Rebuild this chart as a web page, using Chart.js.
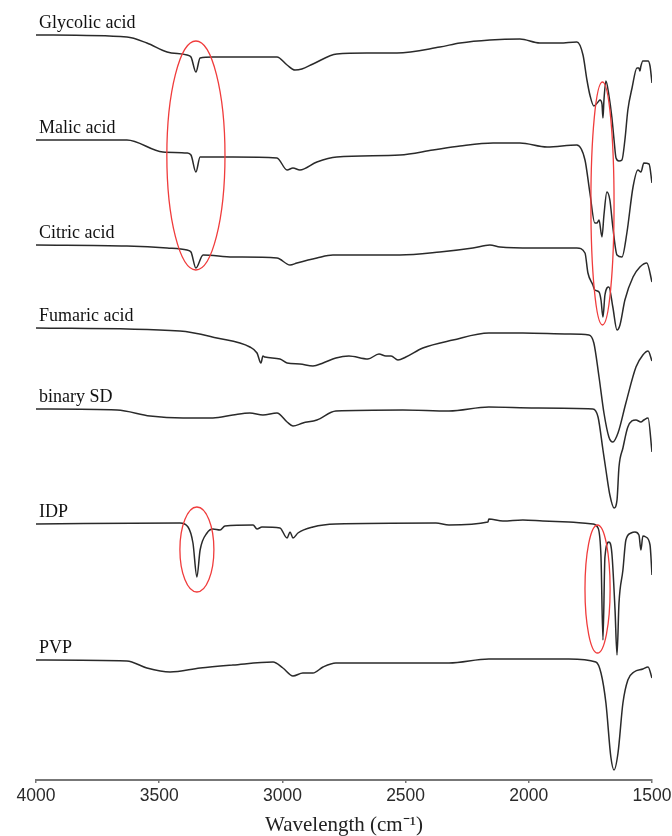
<!DOCTYPE html>
<html>
<head>
<meta charset="utf-8">
<script src="https://cdn.jsdelivr.net/npm/chart.js@4"></script>
<style>
html,body{margin:0;padding:0;background:#fff;}
canvas{display:block;}
</style>
</head>
<body>
<canvas id="c" width="672" height="836"></canvas>
<script>
// ---- data (wavenumber in cm-1, transmittance offset in arbitrary units) ----
const seriesNames = ["Glycolic acid","Malic acid","Citric acid","Fumaric acid","binary SD","IDP","PVP"];
const xTicks = [4000,3500,3000,2500,2000,1500];

const glycolicX = [4000,3631,3550,3468,3387,3371,3351,3334,3282,3022,2981,2949,2921,2876,2779,2657,2535,2361,2279,2158,2036,1955,1874,1805,1780,1764,1752,1736,1719,1711,1703,1699,1695,1687,1675,1663,1654,1646,1634,1622,1610,1598,1581,1561,1553,1549,1545,1537,1516,1508,1500];
const glycolicY = [74.5,74.3,73.7,72.8,72.5,72.3,70.8,72.2,72.3,72.3,71.5,71.0,71.1,71.6,72.6,72.7,72.7,73.3,73.7,74.0,74.1,73.7,73.7,73.8,72.5,70.0,68.5,67.4,67.8,68.0,67.6,66.2,68.0,69.9,68.5,66.3,64.0,62.2,61.9,62.0,64.0,67.0,69.2,71.2,71.2,70.9,71.4,71.9,71.9,71.4,69.7];

const malicX = [4000,3631,3485,3387,3371,3351,3334,3201,3022,2981,2957,2929,2860,2779,2523,2389,2279,2145,2036,1926,1805,1772,1752,1732,1723,1715,1703,1695,1683,1671,1659,1642,1622,1602,1577,1557,1545,1533,1512,1500];
const malicY = [64.0,64.0,62.8,62.7,62.5,60.8,62.3,62.3,62.2,61.0,61.2,61.0,61.8,62.3,62.5,63.0,63.4,63.7,63.7,63.3,63.5,62.0,58.7,55.7,55.7,56.0,54.3,56.5,58.8,58.0,55.3,52.5,52.3,54.7,59.3,61.0,60.8,61.7,61.6,59.7];

const citricX = [4000,3631,3468,3387,3371,3351,3322,3201,3022,2969,2941,2860,2795,2523,2361,2227,2158,2117,1983,1805,1772,1760,1740,1732,1715,1707,1699,1691,1675,1659,1642,1630,1610,1577,1549,1521,1500];
const citricY = [53.5,53.4,53.2,53.0,52.8,51.2,52.5,52.3,52.2,51.5,51.7,52.2,52.5,52.5,52.8,53.2,53.5,53.3,53.2,53.2,52.7,50.7,49.5,49.0,48.8,48.0,46.3,48.5,49.3,47.3,45.0,45.5,48.0,50.3,51.3,51.7,49.8];

const fumaricX = [4000,3416,3266,3132,3103,3087,3079,3071,3010,2981,2929,2876,2835,2783,2730,2653,2608,2580,2559,2531,2499,2430,2308,2162,2024,1837,1756,1736,1715,1695,1675,1659,1638,1606,1565,1537,1516,1500];
const fumaricY = [45.2,44.9,44.2,43.3,42.7,41.7,42.4,42.3,42.1,41.7,41.6,41.4,41.7,42.2,42.4,42.1,42.6,42.4,42.4,42.0,42.3,43.2,44.0,44.7,44.7,44.6,44.5,43.7,40.3,36.7,34.3,33.8,34.7,37.7,41.3,42.5,42.9,41.9];

const binaryX = [4000,3671,3537,3403,3282,3201,3132,3079,3022,2981,2957,2917,2860,2783,2511,2324,2162,1971,1740,1719,1699,1687,1671,1654,1642,1634,1618,1598,1565,1545,1533,1516,1500];
const binaryY = [37.1,37.0,36.4,36.2,36.2,36.5,36.7,36.5,36.7,35.8,35.4,35.7,36.0,36.9,37.0,36.9,37.3,37.2,37.1,36.3,33.0,31.0,28.5,27.2,28.0,31.3,33.2,35.3,36.0,35.8,36.0,36.2,32.8];

const idpX = [4000,3416,3383,3363,3347,3334,3306,3282,3253,3233,3119,3103,3083,3010,2981,2969,2957,2937,2876,2783,2377,2324,2166,2162,2105,2024,1943,1837,1740,1719,1707,1699,1691,1675,1663,1650,1642,1634,1618,1606,1585,1569,1553,1545,1537,1525,1508,1500];
const idpY = [25.6,25.7,25.3,23.7,20.3,23.0,24.7,25.1,25.0,25.4,25.5,25.1,25.3,25.2,24.2,24.8,24.2,24.7,25.3,25.6,25.7,25.5,25.8,26.1,25.9,26.0,25.9,25.8,25.6,25.2,22.3,14.0,22.3,23.8,22.7,17.0,12.5,17.7,21.0,24.0,24.7,24.8,24.5,23.0,24.4,24.3,23.5,20.5];

const pvpX = [4000,3631,3550,3456,3334,3201,3038,2998,2957,2917,2876,2835,2783,2324,2162,1971,1837,1728,1707,1687,1667,1654,1638,1618,1598,1573,1537,1516,1500];
const pvpY = [12.0,11.9,11.2,10.8,11.2,11.5,11.8,11.2,10.4,10.7,10.7,11.3,11.7,11.7,12.1,12.1,12.1,11.8,10.7,7.7,2.3,1.0,2.7,7.7,10.0,10.8,11.1,11.3,10.2];

// highlight ellipses: centre wavenumber, centre value, half-width (cm-1), half-height (a.u.)
const ellipseCenterX = [3351,1701,3347,1721];
const ellipseCenterY = [62.45,57.65,23.05,19.1];
const ellipseHalfW = [118,47,69,51];
const ellipseHalfH = [11.45,12.15,4.25,6.4];

const allX = [glycolicX,malicX,citricX,fumaricX,binaryX,idpX,pvpX];
const allY = [glycolicY,malicY,citricY,fumaricY,binaryY,idpY,pvpY];

const datasets = seriesNames.map((name,i)=>({
  label:name,
  data: allX[i].map((x,j)=>({x:x,y:allY[i][j]})),
  borderColor:'#2a2a2a',
  borderWidth:1.5,
  pointRadius:0,
  fill:false,
  cubicInterpolationMode:'monotone'
}));

const annotPlugin = {
  id:'annot',
  afterDatasetsDraw(chart){
    const {ctx, scales:{x,y}} = chart;
    ctx.save();
    // red ellipses
    ctx.strokeStyle = '#f03c3c';
    ctx.lineWidth = 1.3;
    for(let i=0;i<ellipseCenterX.length;i++){
      const cx = x.getPixelForValue(ellipseCenterX[i]);
      const cy = y.getPixelForValue(ellipseCenterY[i]);
      const rx = Math.abs(x.getPixelForValue(ellipseCenterX[i]+ellipseHalfW[i]) - cx);
      const ry = Math.abs(y.getPixelForValue(ellipseCenterY[i]+ellipseHalfH[i]) - cy);
      ctx.beginPath();
      ctx.ellipse(cx,cy,rx,ry,0,0,Math.PI*2);
      ctx.stroke();
    }
    // series labels
    ctx.fillStyle = '#111';
    ctx.font = '18px "Liberation Serif", "Times New Roman", serif';
    ctx.textBaseline = 'alphabetic';
    ctx.textAlign = 'left';
    for(let i=0;i<seriesNames.length;i++){
      const px = x.getPixelForValue(allX[i][0]) + 3;
      const py = y.getPixelForValue(allY[i][0]) - 7;
      ctx.fillText(seriesNames[i], px, py);
    }
    ctx.restore();
  }
};

new Chart(document.getElementById('c'),{
  type:'line',
  data:{datasets},
  options:{
    responsive:false,
    devicePixelRatio:1,
    animation:false,
    layout:{padding:{left:36,right:20,top:10,bottom:0}},
    plugins:{legend:{display:false},tooltip:{enabled:false}},
    scales:{
      x:{
        type:'linear',
        reverse:true,
        min:1500,max:4000,
        afterBuildTicks(scale){ scale.ticks = xTicks.map(v=>({value:v})); },
        afterFit(scale){ scale.height = 56; scale.paddingLeft = 0; scale.paddingRight = 0; },
        grid:{display:true,drawOnChartArea:false,drawTicks:true,tickLength:3,color:'#777',lineWidth:1.5},
        border:{display:true,color:'#777',width:2},
        ticks:{
          padding:3,
          maxRotation:0,
          color:'#2a2a2a',
          font:{family:'"Liberation Sans", Arial, sans-serif',size:17.5},
          callback:(v)=>String(v)
        },
        title:{
          display:true,
          text:'Wavelength (cm\u207B\u00B9)',
          color:'#222',
          font:{family:'"Liberation Serif", "Times New Roman", serif',size:21,lineHeight:1},
          padding:{top:0,bottom:0}
        }
      },
      y:{
        display:false,
        min:0,max:77
      }
    }
  },
  plugins:[annotPlugin]
});
</script>
</body>
</html>
